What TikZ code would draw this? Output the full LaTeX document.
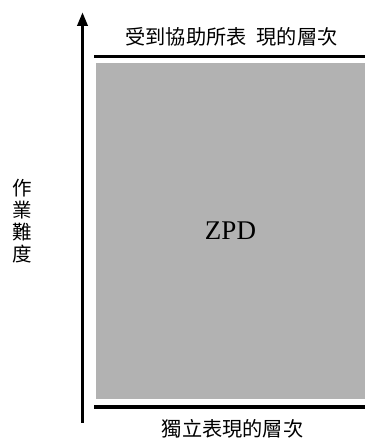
\documentclass[tikz,border=0pt]{standalone}
\usepackage{fontspec}
\setmainfont{Liberation Serif}
\newfontfamily\cjk{Noto Sans CJK TC}
\usetikzlibrary{arrows.meta}
\tikzset{level/.style = {line width=3.5pt},
	label/.style = {font=\cjk\fontsize{20.2}{22}\selectfont, inner sep=0pt}}

\begin{document}
\begin{tikzpicture}[x=1pt, y=1pt]
		\useasboundingbox (0,0) rectangle (365,439);
		\node (Z)[fill={rgb,255:red,178;green,178;blue,178}, minimum width=269pt, minimum height=336pt, inner sep=0pt, font=\fontsize{27}{30}\selectfont] at (230.5,208){ZPD};
		%
		\coordinate (A0) at (82.5,16);
		\coordinate (A1) at (82.5,427);
		\draw [line width=3.5pt, -{Stealth[length=14pt, width=10pt, inset=0pt]}] (A0) -- (A1);
		\node (y)[label, align=center, font=\cjk\fontsize{19.5}{22}\selectfont] at (22,218){作\\業\\難\\度};
		%
		\coordinate (T0) at (94,382.5);
		\coordinate (T1) at (365,382.5);
		\draw [level] (T0) -- (T1);
		\node (t)[label] at (231.5,402.5){受到協助所表\hspace{0.5em}現的層次};
		%
		\coordinate (B0) at (94,32);
		\coordinate (B1) at (365,32);
		\draw [level] (B0) -- (B1);
		\node (b)[label] at (232.5,10.5){獨立表現的層次};
	\end{tikzpicture}
\end{document}
